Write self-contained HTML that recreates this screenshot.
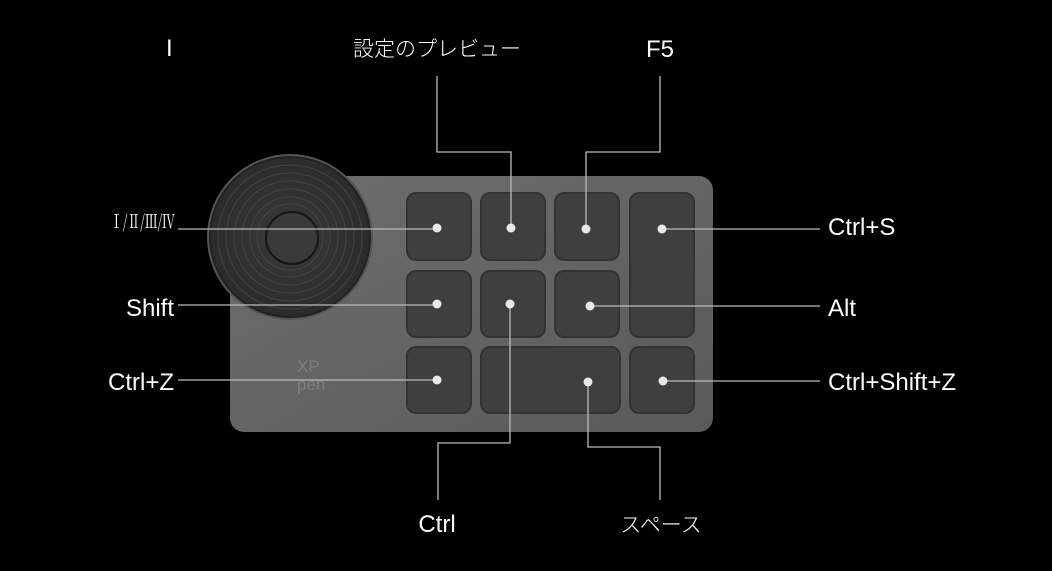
<!DOCTYPE html>
<html><head><meta charset="utf-8"><style>
html,body{margin:0;padding:0;background:#000;}
svg{display:block}
text{font-family:"Liberation Sans","Noto Sans CJK JP",sans-serif;fill:#fff;font-size:24px}
.j{font-family:"Noto Sans CJK JP","WenQuanYi Zen Hei",sans-serif;font-weight:300;font-size:21px}
</style></head><body>
<svg width="1052" height="571" viewBox="0 0 1052 571">
<defs>
<linearGradient id="bg" x1="0" y1="0" x2="1" y2="1">
<stop offset="0" stop-color="#6e6e6e"/><stop offset="1" stop-color="#5a5a5a"/>
</linearGradient>
<radialGradient id="dg" cx="0.5" cy="0.5" r="0.5">
<stop offset="0" stop-color="#3a3a3a"/><stop offset="1" stop-color="#2c2c2c"/>
</radialGradient>
</defs>
<rect x="230" y="176" width="483" height="256" rx="14" fill="url(#bg)"/>
<circle cx="290" cy="237" r="83" fill="#555"/>
<circle cx="290" cy="237" r="80" fill="url(#dg)" stroke="#222" stroke-width="2"/>
<g fill="none" stroke="#444" stroke-width="1">
<circle cx="290" cy="237" r="72"/><circle cx="290" cy="237" r="64"/><circle cx="290" cy="237" r="56"/><circle cx="290" cy="237" r="48"/><circle cx="290" cy="237" r="40"/><circle cx="290" cy="237" r="33"/>
</g>
<circle cx="292" cy="238" r="26" fill="#3a3a3a" stroke="#151515" stroke-width="2"/>
<g fill="#3f3f3f" stroke="#333" stroke-width="2">
<rect x="407" y="193" width="64" height="67" rx="9"/>
<rect x="481" y="193" width="64" height="67" rx="9"/>
<rect x="555" y="193" width="64" height="67" rx="9"/>
<rect x="630" y="193" width="64" height="144" rx="9"/>
<rect x="407" y="271" width="64" height="66" rx="9"/>
<rect x="481" y="271" width="64" height="66" rx="9"/>
<rect x="555" y="271" width="64" height="66" rx="9"/>
<rect x="407" y="347" width="64" height="66" rx="9"/>
<rect x="481" y="347" width="139" height="66" rx="9"/>
<rect x="630" y="347" width="64" height="66" rx="9"/>
</g>
<text x="297" y="372" style="font-size:17px;fill:#7e7e7e">XP</text>
<text x="297" y="390" style="font-size:17px;fill:#7e7e7e">pen</text>
<g fill="none" stroke="#bbb" stroke-width="1.3">
<line x1="178" y1="229" x2="437" y2="229"/>
<line x1="178" y1="305" x2="437" y2="305"/>
<line x1="178" y1="380" x2="437" y2="380"/>
<line x1="662" y1="229" x2="820" y2="229"/>
<line x1="590" y1="306" x2="820" y2="306"/>
<line x1="663" y1="381" x2="820" y2="381"/>
<polyline points="437,76 437,152 511,152 511,228"/>
<polyline points="660,76 660,152 586,152 586,229"/>
<polyline points="510,304 510,443 438,443 438,500"/>
<polyline points="588,382 588,447 660,447 660,500"/>
</g>
<g fill="#e8e8e8">
<circle cx="437" cy="228" r="4.5"/><circle cx="511" cy="228" r="4.5"/><circle cx="586" cy="229" r="4.5"/><circle cx="662" cy="229" r="4.5"/>
<circle cx="437" cy="304" r="4.5"/><circle cx="510" cy="304" r="4.5"/><circle cx="590" cy="306" r="4.5"/>
<circle cx="437" cy="380" r="4.5"/><circle cx="588" cy="382" r="4.5"/><circle cx="663" cy="381" r="4.5"/>
</g>
<text x="166" y="56">I</text>
<text class="j" x="437" y="56" text-anchor="middle">設定のプレビュー</text>
<text x="660" y="57" text-anchor="middle">F5</text>
<text x="110" y="228" textLength="65" lengthAdjust="spacingAndGlyphs" style="font-family:'Noto Serif CJK SC',serif;font-size:19px">Ⅰ/Ⅱ/Ⅲ/Ⅳ</text>
<text x="174" y="316" text-anchor="end">Shift</text>
<text x="174" y="390" text-anchor="end">Ctrl+Z</text>
<text x="828" y="235">Ctrl+S</text>
<text x="828" y="316">Alt</text>
<text x="828" y="390">Ctrl+Shift+Z</text>
<text x="437" y="532" text-anchor="middle">Ctrl</text>
<text class="j" x="661" y="532" text-anchor="middle">スペース</text>
</svg>
</body></html>
